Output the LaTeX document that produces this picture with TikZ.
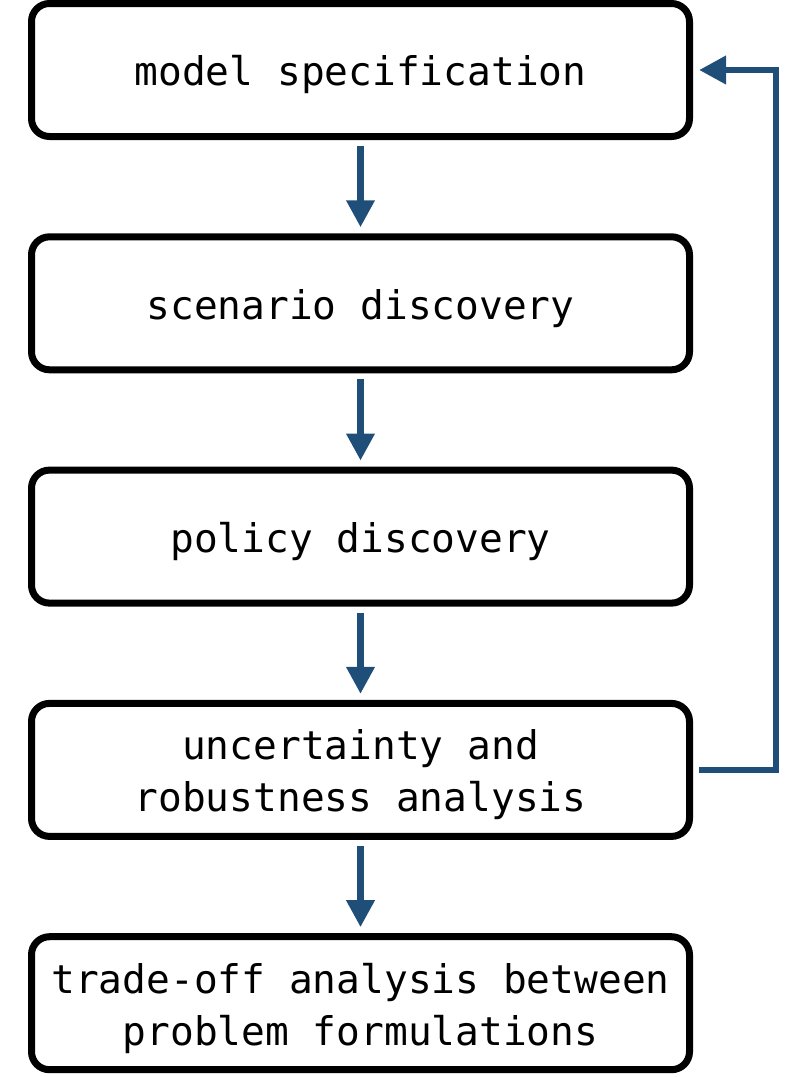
\documentclass[tikz,border=0pt]{standalone}
\usepackage{fontspec}
\setmonofont{DejaVu Sans Mono}
\usetikzlibrary{positioning,arrows.meta}
\definecolor{flowblue}{HTML}{1F4E79}
\newcommand{\liftline}{\rule{0pt}{40pt}}

\begin{document}
\begin{tikzpicture}[x=1pt,y=-1pt,
  stage/.style={draw, line width=7pt, rounded corners=18pt, minimum width=658pt, minimum height=133pt,
    inner sep=0pt, align=center, font=\ttfamily\fontsize{39.5}{52}\selectfont},
  flow/.style={draw=flowblue, line width=6.7pt, -{Triangle[width=27pt,length=27pt]}, shorten <=6pt, shorten >=6pt}]
\useasboundingbox (0,0) rectangle (791,1077);
%\draw (0,0) to[grid with coordinates] (791,1077);
\node[stage] (model) at (360.5,70) {\liftline model specification};
\node[stage, below=93.3pt of model] (scen) {\liftline scenario discovery};
\node[stage, below=93.3pt of scen] (policy) {\liftline policy discovery};
\node[stage, below=93.3pt of policy] (robust) {\liftline uncertainty and\\robustness analysis};
\node[stage, below=93.3pt of robust] (trade) {\liftline trade-off analysis between\\problem formulations};
\draw[flow] (model) -- (scen);
\draw[flow] (scen) -- (policy);
\draw[flow] (policy) -- (robust);
\draw[flow] (robust) -- (trade);
% feedback loop
\coordinate (loop) at (776,0);
\draw[flow, rounded corners=0pt] (robust.east) -| (loop |- robust.east) |- (model.east);
\end{tikzpicture}
\end{document}
